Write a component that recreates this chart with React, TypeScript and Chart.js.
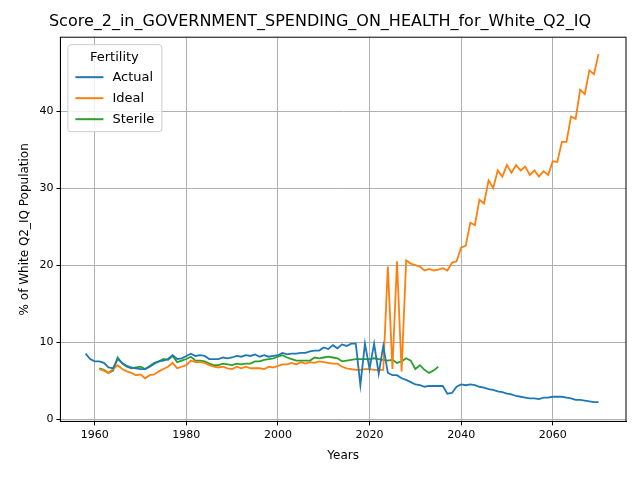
import { useEffect, useRef } from "react";
import Chart from "chart.js/auto";

const actualStart = 1958;
const actual = [
  8.5, 7.8, 7.5, 7.5, 7.3, 6.7, 6.6, 7.8, 7.3, 6.9, 6.7, 6.6, 6.5, 6.5, 6.8, 7.2, 7.5, 7.6, 7.8, 8.3,
  7.8, 7.9, 8.2, 8.5, 8.2, 8.3, 8.2, 7.8, 7.8, 7.8, 8.0, 7.9, 8.0, 8.2, 8.1, 8.3, 8.2, 8.4, 8.1, 8.3,
  8.1, 8.2, 8.3, 8.6, 8.4, 8.5, 8.5, 8.6, 8.6, 8.8, 8.9, 8.9, 9.3, 9.1, 9.6, 9.2, 9.7, 9.5, 9.8, 9.8,
  4.4, 9.8, 6.5, 9.8, 5.9, 9.5, 6.0, 5.7, 5.7, 5.3, 5.1, 4.8, 4.5, 4.4, 4.2, 4.3, 4.3, 4.3, 4.3, 3.3,
  3.4, 4.2, 4.5, 4.4, 4.5, 4.4, 4.2, 4.1, 3.9, 3.8, 3.6, 3.5, 3.3, 3.2, 3.0, 2.9, 2.8, 2.7, 2.7, 2.6,
  2.8, 2.8, 2.9, 2.9, 2.9, 2.8, 2.7, 2.5, 2.5, 2.4, 2.3, 2.2, 2.2,
];
const idealStart = 1961;
const ideal = [
  6.5, 6.3, 6.0, 6.5, 7.0, 6.5, 6.2, 6.0, 5.7, 5.8, 5.3, 5.7, 5.8, 6.2, 6.5, 6.8, 7.3, 6.6, 6.8, 7.0,
  7.6, 7.4, 7.4, 7.3, 7.0, 6.8, 6.7, 6.8, 6.6, 6.5, 6.8, 6.6, 6.8, 6.6, 6.6, 6.6, 6.5, 6.8, 6.7, 6.9,
  7.1, 7.1, 7.3, 7.1, 7.4, 7.2, 7.4, 7.3, 7.5, 7.4, 7.3, 7.2, 7.2, 6.8, 6.6, 6.5, 6.4, 6.4, 6.5, 6.5,
  6.4, 6.4, 6.4, 19.8, 6.5, 20.5, 6.2, 20.6, 20.2, 20.0, 19.8, 19.3, 19.5, 19.3, 19.4, 19.6, 19.3, 20.3, 20.5, 22.3,
  22.5, 25.5, 25.2, 28.5, 28.0, 31.0, 30.0, 32.3, 31.5, 33.0, 32.0, 33.0, 32.3, 32.8, 31.7, 32.3, 31.5, 32.2, 31.7, 33.5,
  33.4, 36.0, 36.0, 39.3, 39.0, 42.8, 42.2, 45.3, 44.8, 47.4,
];
const sterileStart = 1961;
const sterile = [
  6.6, 6.4, 6.0, 6.3, 8.0, 7.2, 6.8, 6.6, 6.7, 6.8, 6.5, 6.9, 7.3, 7.5, 7.8, 7.7, 8.2, 7.4, 7.6, 7.8,
  8.1, 7.6, 7.6, 7.5, 7.2, 7.0, 7.0, 7.2, 7.1, 7.0, 7.2, 7.1, 7.2, 7.2, 7.5, 7.5, 7.7, 7.8, 7.9, 8.1,
  8.3, 8.0, 7.8, 7.6, 7.6, 7.6, 7.6, 8.0, 7.9, 8.0, 8.1, 8.0, 7.9, 7.5, 7.6, 7.7, 7.8, 7.8, 7.8, 7.8,
  7.9, 7.8, 7.7, 7.6, 7.7, 7.3, 7.5, 7.9, 7.6, 6.5, 7.0, 6.4, 6.0, 6.3, 6.8,
];
const xTicks = [1960, 1980, 2000, 2020, 2040, 2060];
const yTicks = [0, 10, 20, 30, 40];

const pts = (start: number, vals: number[]) => vals.map((y, i) => ({ x: start + i, y }));

const legendPlugin = {
  id: "insideLegend",
  afterDraw(chart: any) {
    const { ctx, chartArea } = chart;
    ctx.save();
    // full frame round the plot
    ctx.strokeStyle = "#000";
    ctx.lineWidth = 1;
    ctx.strokeRect(chartArea.left, chartArea.top, chartArea.right - chartArea.left, chartArea.bottom - chartArea.top);
    const x = chartArea.left + 7, y = chartArea.top + 7;
    ctx.fillStyle = "rgba(255,255,255,0.8)";
    ctx.strokeStyle = "#cccccc";
    ctx.beginPath();
    ctx.roundRect(x + 0.5, y + 0.5, 94, 87, 3);
    ctx.fill();
    ctx.stroke();
    ctx.fillStyle = "#000";
    ctx.font = "13px 'DejaVu Sans'";
    ctx.textBaseline = "middle";
    ctx.textAlign = "center";
    ctx.fillText("Fertility", x + 47, y + 13);
    ctx.textAlign = "left";
    chart.data.datasets.forEach((ds: any, i: number) => {
      const ly = y + 33 + i * 21;
      ctx.strokeStyle = ds.borderColor;
      ctx.lineWidth = 2;
      ctx.beginPath();
      ctx.moveTo(x + 8, ly);
      ctx.lineTo(x + 36, ly);
      ctx.stroke();
      ctx.fillStyle = "#000";
      ctx.fillText(ds.label, x + 45, ly);
    });
    ctx.restore();
  },
};

export default function App() {
  const canvasRef = useRef<HTMLCanvasElement | null>(null);

  useEffect(() => {
    document.body.style.margin = "0";
    if (!canvasRef.current) return;
    const line = { borderWidth: 1.8, pointRadius: 0, fill: false, tension: 0 };
    const chart = new Chart(canvasRef.current, {
      type: "line",
      data: {
        datasets: [
          { ...line, label: "Actual", data: pts(actualStart, actual), borderColor: "#1f77b4" },
          { ...line, label: "Ideal", data: pts(idealStart, ideal), borderColor: "#ff7f0e" },
          { ...line, label: "Sterile", data: pts(sterileStart, sterile), borderColor: "#2ca02c" },
        ],
      },
      options: {
        responsive: false,
        animation: false,
        layout: { padding: { left: 14, right: 14, top: 0, bottom: 13 } },
        plugins: {
          legend: { display: false },
          tooltip: { enabled: false },
          title: {
            display: true,
            text: "Score_2_in_GOVERNMENT_SPENDING_ON_HEALTH_for_White_Q2_IQ",
            color: "#000",
            font: { family: "'DejaVu Sans'", size: 16, weight: "normal" },
            padding: { top: 12, bottom: 6 },
          },
        },
        scales: {
          x: {
            type: "linear",
            min: 1952.5,
            max: 2076,
            afterBuildTicks: (s: any) => { s.ticks = xTicks.map((v) => ({ value: v })); },
            ticks: { color: "#000", font: { family: "'DejaVu Sans'", size: 11 }, callback: (v: any) => String(v) },
            grid: { color: "#b0b0b0", tickColor: "#000", tickLength: 4 },
            border: { color: "#000" },
            title: { display: true, text: "Years", color: "#000", font: { family: "'DejaVu Sans'", size: 12 } },
          },
          y: {
            min: -0.3,
            max: 49.6,
            afterBuildTicks: (s: any) => { s.ticks = yTicks.map((v) => ({ value: v })); },
            ticks: { color: "#000", font: { family: "'DejaVu Sans'", size: 11 } },
            grid: { color: "#b0b0b0", tickColor: "#000", tickLength: 4 },
            border: { color: "#000" },
            title: { display: true, text: "% of White Q2_IQ Population", color: "#000", font: { family: "'DejaVu Sans'", size: 12 } },
          },
        },
      },
      plugins: [legendPlugin],
    });
    return () => chart.destroy();
  }, []);

  return <canvas ref={canvasRef} width={640} height={480} />;
}
